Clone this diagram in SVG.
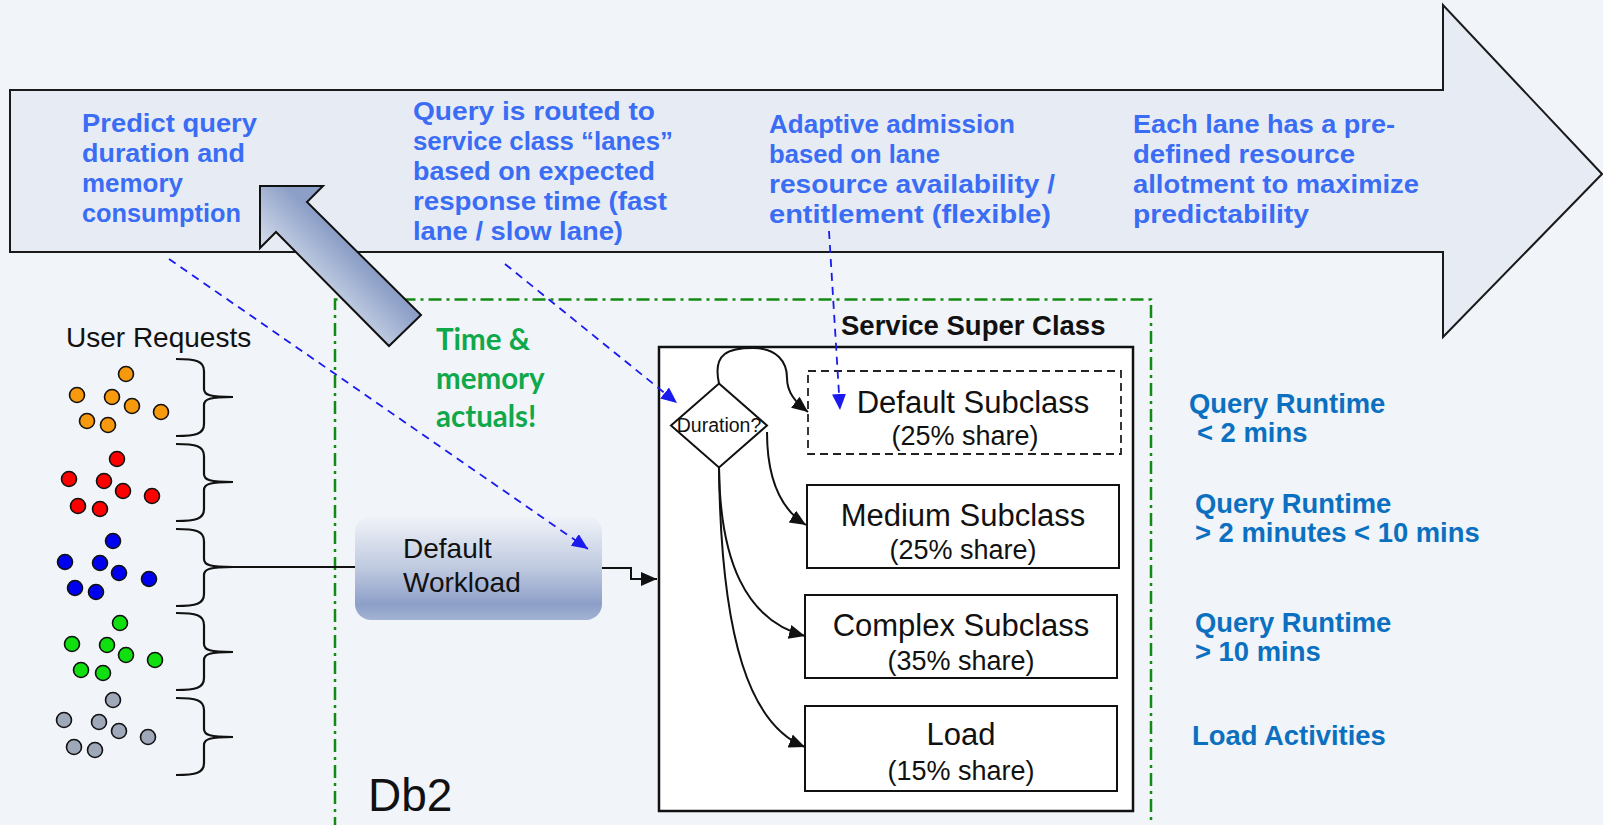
<svg xmlns="http://www.w3.org/2000/svg" width="1603" height="825" viewBox="0 0 1603 825">
<style>
.comic{font-family:"Liberation Sans",Arial,sans-serif;font-size:26px;fill:#3b6cf4;font-weight:bold}
.ar{font-family:"Liberation Sans",Arial,sans-serif;fill:#111}
.rt{font-family:"Liberation Sans",Arial,sans-serif;font-size:27.4px;font-weight:bold;fill:#0b70c0}
.title{font-size:31px;text-anchor:middle}
.share{font-size:27px;text-anchor:middle}
.box{fill:#fff;stroke:#111;stroke-width:2}
.bd{fill:none;stroke:#111;stroke-width:2.2}
.blk{fill:none;stroke:#111;stroke-width:2}
.bdash{fill:none;stroke:#1a1aee;stroke-width:1.8;stroke-dasharray:8 6}
.dot{stroke:#111;stroke-width:1.6}
</style>
<defs>
<marker id="ah" markerUnits="userSpaceOnUse" markerWidth="18" markerHeight="16" refX="16" refY="7" orient="auto"><path d="M0,0 L16,7 L0,14 z" fill="#111"/></marker>
<marker id="bh" markerUnits="userSpaceOnUse" markerWidth="18" markerHeight="16" refX="16" refY="7" orient="auto"><path d="M0,0 L16,7 L0,14 z" fill="#1a1aee"/></marker>
<linearGradient id="gArrow" gradientUnits="userSpaceOnUse" x1="300" y1="300" x2="350" y2="250"><stop offset="0" stop-color="#e3e9f2"/><stop offset="1" stop-color="#8c9fc7"/></linearGradient>
<linearGradient id="gWork" x1="0" y1="0" x2="0" y2="1"><stop offset="0" stop-color="#f0f3f8"/><stop offset="0.5" stop-color="#bfcae0"/><stop offset="0.85" stop-color="#8d9fc8"/><stop offset="1" stop-color="#a3b3d4"/></linearGradient>
</defs>
<rect x="0" y="0" width="1603" height="825" fill="#f1f4f8"/>

<g id="big-arrow">
<polygon points="10,90 1443,90 1443,5 1602,174 1443,337 1443,252 10,252" fill="#e7ecf4" stroke="#1a1a1a" stroke-width="2"/>
<text class="comic" lengthAdjust="spacingAndGlyphs">
<tspan x="82" y="132" textLength="175" lengthAdjust="spacingAndGlyphs">Predict query</tspan>
<tspan x="82" y="162" textLength="163" lengthAdjust="spacingAndGlyphs">duration and</tspan>
<tspan x="82" y="192" textLength="101" lengthAdjust="spacingAndGlyphs">memory</tspan>
<tspan x="82" y="222" textLength="159" lengthAdjust="spacingAndGlyphs">consumption</tspan>
</text>
<text class="comic">
<tspan x="413" y="120" textLength="242" lengthAdjust="spacingAndGlyphs">Query is routed to</tspan>
<tspan x="413" y="150" textLength="260" lengthAdjust="spacingAndGlyphs">service class “lanes”</tspan>
<tspan x="413" y="180" textLength="242" lengthAdjust="spacingAndGlyphs">based on expected</tspan>
<tspan x="413" y="210" textLength="254" lengthAdjust="spacingAndGlyphs">response time (fast</tspan>
<tspan x="413" y="240" textLength="210" lengthAdjust="spacingAndGlyphs">lane / slow lane)</tspan>
</text>
<text class="comic">
<tspan x="769" y="133" textLength="246" lengthAdjust="spacingAndGlyphs">Adaptive admission</tspan>
<tspan x="769" y="163" textLength="171" lengthAdjust="spacingAndGlyphs">based on lane</tspan>
<tspan x="769" y="193" textLength="286" lengthAdjust="spacingAndGlyphs">resource availability /</tspan>
<tspan x="769" y="223" textLength="282" lengthAdjust="spacingAndGlyphs">entitlement (flexible)</tspan>
</text>
<text class="comic">
<tspan x="1133" y="133" textLength="262" lengthAdjust="spacingAndGlyphs">Each lane has a pre-</tspan>
<tspan x="1133" y="163" textLength="222" lengthAdjust="spacingAndGlyphs">defined resource</tspan>
<tspan x="1133" y="193" textLength="286" lengthAdjust="spacingAndGlyphs">allotment to maximize</tspan>
<tspan x="1133" y="223" textLength="176" lengthAdjust="spacingAndGlyphs">predictability</tspan>
</text>
</g>

<g id="db2-boundary">
<path d="M335,830 V299.5 H1151 V830" fill="none" stroke="#138a13" stroke-width="2.5" stroke-dasharray="13 5 3 5"/>
<text class="ar" x="368" y="811" font-size="46">Db2</text>
</g>

<g id="feedback-arrow">
<polygon points="260,186 323,186 307,202 421,315 389,346 276,232 260,248" fill="url(#gArrow)" stroke="#111" stroke-width="2"/>
</g>

<g id="actuals-label">
<text font-family="Lato,'Open Sans',sans-serif" font-weight="bold" font-size="29.5" fill="#0fa84a"><tspan x="436" y="350">Time &amp;</tspan><tspan x="436" y="389">memory</tspan><tspan x="436" y="427">actuals!</tspan></text>
</g>

<g id="user-requests">
<text class="ar" x="66" y="347" font-size="28">User Requests</text>
<g fill="#f7990c" class="dot"><circle cx="126" cy="374" r="7.5"/><circle cx="77" cy="395" r="7.5"/><circle cx="112" cy="397" r="7.5"/><circle cx="132" cy="406" r="7.5"/><circle cx="161" cy="412" r="7.5"/><circle cx="87" cy="421" r="7.5"/><circle cx="108" cy="425" r="7.5"/></g>
<g fill="#ff0000" class="dot"><circle cx="117" cy="459" r="7.5"/><circle cx="69" cy="479" r="7.5"/><circle cx="104" cy="481" r="7.5"/><circle cx="123" cy="491" r="7.5"/><circle cx="152" cy="496" r="7.5"/><circle cx="78" cy="506" r="7.5"/><circle cx="100" cy="509" r="7.5"/></g>
<g fill="#0000f0" class="dot"><circle cx="113" cy="541" r="7.5"/><circle cx="65" cy="562" r="7.5"/><circle cx="100" cy="563" r="7.5"/><circle cx="119" cy="573" r="7.5"/><circle cx="149" cy="579" r="7.5"/><circle cx="75" cy="588" r="7.5"/><circle cx="96" cy="592" r="7.5"/></g>
<g fill="#10e010" class="dot"><circle cx="120" cy="623" r="7.5"/><circle cx="72" cy="644" r="7.5"/><circle cx="107" cy="645" r="7.5"/><circle cx="126" cy="655" r="7.5"/><circle cx="155" cy="660" r="7.5"/><circle cx="81" cy="670" r="7.5"/><circle cx="103" cy="673" r="7.5"/></g>
<g fill="#9ea8b8" class="dot"><circle cx="113" cy="700" r="7.5"/><circle cx="64" cy="720" r="7.5"/><circle cx="99" cy="722" r="7.5"/><circle cx="119" cy="731" r="7.5"/><circle cx="148" cy="737" r="7.5"/><circle cx="74" cy="747" r="7.5"/><circle cx="95" cy="750" r="7.5"/></g>
<g class="bd">
<path d="M176,359 C196,359 204,361 204,371 L204,389 C204,395 210,397 233,397 C210,397 204,399 204,405 L204,424 C204,434 196,436 176,436"/>
<path d="M176,444 C196,444 204,446 204,456 L204,474 C204,480 210,482 233,482 C210,482 204,484 204,490 L204,509 C204,519 196,521 176,521"/>
<path d="M176,529 C196,529 204,531 204,541 L204,559 C204,565 210,567 233,567 C210,567 204,569 204,575 L204,594 C204,604 196,606 176,606"/>
<path d="M176,613 C196,613 204,615 204,625 L204,644 C204,650 210,652 233,652 C210,652 204,654 204,660 L204,678 C204,688 196,690 176,690"/>
<path d="M176,698 C196,698 204,700 204,710 L204,729 C204,735 210,737 233,737 C210,737 204,739 204,745 L204,763 C204,773 196,775 176,775"/>
</g>
</g>

<g id="default-workload">
<rect x="355" y="516" width="247" height="104" rx="16" fill="url(#gWork)"/>
<text class="ar" font-size="28"><tspan x="403" y="558">Default</tspan><tspan x="403" y="592">Workload</tspan></text>
</g>

<g id="service-super-class">
<text class="ar" x="841" y="335" font-size="27.5" font-weight="bold">Service Super Class</text>
<rect x="659" y="347" width="474" height="464" fill="#fff" stroke="#111" stroke-width="2.5"/>
</g>

<g id="duration-decision">
<polygon points="719,383.5 767,425.5 719,467.5 671,425.5" fill="#fff" stroke="#111" stroke-width="2"/>
<text class="ar" x="719" y="432" font-size="19.5" text-anchor="middle">Duration?</text>
</g>

<g id="default-subclass">
<rect x="808" y="371" width="313" height="83" fill="#fff" stroke="#222" stroke-width="1.8" stroke-dasharray="8 5"/>
<text class="ar title" x="973" y="413">Default Subclass</text>
<text class="ar share" x="965" y="445">(25% share)</text>
</g>
<g id="medium-subclass">
<rect class="box" x="807" y="485" width="312" height="83"/>
<text class="ar title" x="963" y="526">Medium Subclass</text>
<text class="ar share" x="963" y="559">(25% share)</text>
</g>
<g id="complex-subclass">
<rect class="box" x="805" y="595" width="312" height="83"/>
<text class="ar title" x="961" y="636">Complex Subclass</text>
<text class="ar share" x="961" y="670">(35% share)</text>
</g>
<g id="load-subclass">
<rect class="box" x="805" y="706" width="312" height="85"/>
<text class="ar title" x="961" y="745">Load</text>
<text class="ar share" x="961" y="780">(15% share)</text>
</g>

<g id="runtime-labels">
<text class="rt"><tspan x="1189" y="413">Query Runtime</tspan><tspan x="1197" y="442">&lt; 2 mins</tspan></text>
<text class="rt"><tspan x="1195" y="513">Query Runtime</tspan><tspan x="1195" y="542">&gt; 2 minutes &lt; 10 mins</tspan></text>
<text class="rt"><tspan x="1195" y="632">Query Runtime</tspan><tspan x="1195" y="661">&gt; 10 mins</tspan></text>
<text class="rt" x="1192" y="745">Load Activities</text>
</g>

<g id="connectors">
<path class="blk" d="M230,567 H355"/>
<path class="blk" d="M602,568 H631 V579 H657" marker-end="url(#ah)"/>
<path class="blk" d="M719,383.5 C712,352 730,348 753,348 C777,348 787,362 787,378 C787,392 795,402 808,412" marker-end="url(#ah)"/>
<path class="blk" d="M767,432 C767,485 785,512 806,525" marker-end="url(#ah)"/>
<path class="blk" d="M719,467.5 C720,560 745,620 805,636" marker-end="url(#ah)"/>
<path class="blk" d="M719,467.5 C721,640 750,725 805,747" marker-end="url(#ah)"/>
<path class="bdash" d="M169,259 L588,549" marker-end="url(#bh)"/>
<path class="bdash" d="M505,264 L677,403" marker-end="url(#bh)"/>
<path class="bdash" d="M829,231 L840,410" marker-end="url(#bh)"/>
</g>
</svg>
